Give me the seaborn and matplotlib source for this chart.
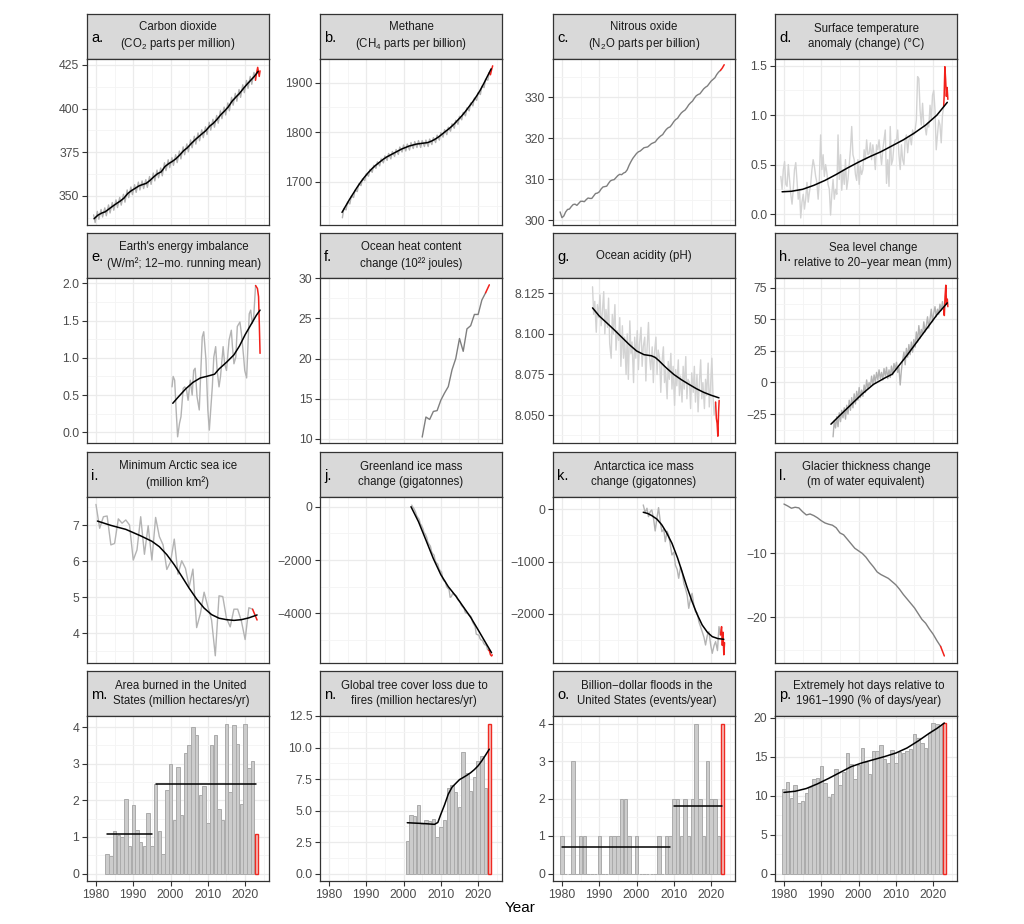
import numpy as np
import matplotlib
matplotlib.use("Agg")
import matplotlib.pyplot as plt
import seaborn as sns

sns.set_theme(style="white")
plt.rcParams['font.family'] = ['Liberation Sans', 'DejaVu Sans']
plt.rcParams['mathtext.fontset'] = 'custom'
plt.rcParams['mathtext.rm'] = 'Liberation Sans'
plt.rcParams['axes.unicode_minus'] = True

# ------------------------------------------------------------------ data
# a. CO2 (ppm): spring peak / autumn trough per year, annual trend
co2_years = np.arange(1979, 2023)
co2_peak = [339.0, 341.0, 342.1, 343.0, 344.7, 346.1, 347.6, 349.0, 350.8, 353.3, 355.0, 356.3, 357.8, 358.5,
            359.2, 361.0, 363.0, 364.7, 365.9, 368.9, 370.6, 371.8, 373.5, 375.6, 378.0, 379.7, 382.0, 384.1,
            386.0, 387.8, 389.5, 392.1, 393.8, 396.0, 398.7, 400.8, 403.2, 406.4, 408.7, 410.9, 413.6, 416.1,
            418.4, 420.7]
co2_trough = [334.6, 336.5, 337.8, 338.5, 340.1, 341.7, 343.2, 344.6, 346.3, 348.9, 350.6, 351.9, 353.3, 354.1,
              354.8, 356.5, 358.5, 360.3, 361.4, 364.4, 366.1, 367.4, 369.0, 371.1, 373.5, 375.2, 377.5, 379.6,
              381.5, 383.3, 385.1, 387.6, 389.3, 391.6, 394.2, 396.3, 398.7, 401.9, 404.2, 406.4, 409.1, 411.6,
              413.9, 416.2]
co2_trend_years = np.arange(1979, 2024)
co2_trend = [336.8, 338.8, 340.0, 340.8, 342.4, 344.0, 345.5, 346.9, 348.6, 351.2, 352.9, 354.2, 355.6, 356.4,
             357.1, 358.8, 360.8, 362.6, 363.7, 366.7, 368.4, 369.7, 371.3, 373.4, 375.8, 377.5, 379.8, 381.9,
             383.8, 385.6, 387.4, 389.9, 391.6, 393.9, 396.5, 398.6, 401.0, 404.2, 406.5, 408.7, 411.4, 413.9,
             416.2, 418.5, 421.3]
co2_red_x = [2022.78, 2023.0, 2023.37, 2023.78, 2024.0]
co2_red = [416.2, 419.6, 423.6, 418.4, 421.6]

# b. CH4 (ppb)
ch4_years = np.arange(1983, 2023)
ch4_low = [1627, 1643, 1655, 1668, 1680, 1692, 1702, 1711, 1719, 1727, 1732, 1738, 1743, 1746, 1751, 1755,
           1760, 1762, 1764, 1767, 1769, 1769, 1771, 1771, 1775, 1779, 1784, 1790, 1795, 1802, 1808, 1816,
           1825, 1833, 1843, 1853, 1864, 1876, 1890, 1905]
ch4_high = [1646, 1659, 1671, 1683, 1696, 1706, 1716, 1725, 1733, 1740, 1746, 1752, 1757, 1761, 1765, 1770,
            1774, 1776, 1779, 1781, 1783, 1783, 1784, 1786, 1789, 1794, 1799, 1805, 1810, 1817, 1824, 1832,
            1840, 1849, 1859, 1869, 1880, 1893, 1907, 1920]
ch4_trend_years = np.arange(1983, 2024)
ch4_trend = [1638, 1651, 1664, 1676, 1688, 1699, 1709, 1718, 1726, 1733, 1739, 1745, 1750, 1754, 1758, 1762,
             1766, 1769, 1772, 1774, 1776, 1777, 1778, 1779, 1782, 1786, 1791, 1797, 1803, 1809, 1816, 1824,
             1832, 1841, 1851, 1861, 1872, 1884, 1898, 1913, 1928]
ch4_red_x = [2023.0, 2023.3, 2023.6, 2023.9]
ch4_red = [1920, 1916, 1926, 1934]

# c. N2O (ppb): mid-year values and year-end values
n2o_years = np.arange(1979, 2023)
n2o = [302.0, 301.0, 302.6, 303.3, 303.9, 304.1, 304.6, 305.0, 305.3, 305.9, 306.6, 307.6, 308.2, 309.0,
       309.8, 310.4, 311.2, 311.5, 312.3, 314.3, 315.7, 316.7, 317.3, 317.8, 318.3, 318.9, 319.7, 320.6,
       321.6, 322.6, 323.4, 324.6, 325.6, 326.6, 327.5, 328.7, 329.8, 330.7, 331.5, 332.5, 333.4, 334.4,
       335.6, 336.6]
n2o_yearend = [300.6, 302.0, 302.7, 303.8, 303.6, 304.6, 304.5, 305.4, 305.3, 306.5, 306.9, 308.1, 308.3,
               309.6, 309.9, 310.9, 311.1, 311.7, 313.4, 315.1, 316.3, 316.9, 317.7, 317.9, 318.7, 319.1,
               320.2, 320.9, 322.2, 322.8, 324.1, 324.9, 326.2, 326.9, 328.2, 329.1, 330.4, 330.9, 332.1,
               332.8, 334.0, 334.8, 336.2]
n2o_red_x = [2022.5, 2023.0, 2023.5]
n2o_red = [336.6, 337.2, 338.0]

# d. Surface temperature anomaly (°C), three readings per year
temp_years = np.arange(1979, 2023)
temp = [0.38, 0.25, 0.45, 0.53, 0.30, 0.28, 0.50, 0.35, 0.20, 0.10, 0.25, 0.45, 0.52, 0.33, 0.15,
        0.25, -0.04, 0.12, 0.20, 0.05, 0.15, 0.32, 0.12, 0.22, 0.30, 0.45, 0.55, 0.48, 0.38, 0.32,
        0.15, 0.35, 0.80, 0.45, 0.60, 0.38, 0.50, 0.42, 0.30, 0.25, -0.01, 0.20, 0.35, 0.15, 0.25,
        0.20, 0.80, 0.35, 0.60, 0.24, 0.45, 0.30, 0.55, 0.25, 0.35, 0.50, 0.65, 0.885, 0.60, 0.55,
        0.40, 0.34, 0.55, 0.30, 0.48, 0.40, 0.45, 0.65, 0.55, 0.75, 0.60, 0.61, 0.72, 0.55, 0.70,
        0.60, 0.45, 0.70, 0.65, 0.75, 0.62, 0.50, 0.65, 0.75, 0.85, 0.31, 0.55, 0.28, 0.885, 0.50,
        0.55, 0.70, 0.75, 0.75, 0.85, 0.60, 0.45, 0.70, 0.55, 0.50, 0.75, 0.80, 0.62, 0.75, 0.78,
        0.70, 0.85, 0.80, 0.85, 0.95, 1.39, 1.37, 1.05, 0.90, 1.12, 0.90, 0.885, 0.80, 0.92, 0.88,
        1.10, 0.95, 1.20, 1.25, 1.05, 0.65, 0.80, 0.95, 0.90, 0.72, 1.00, 1.09]
temp_red_x = [2022.83, 2022.95, 2023.15, 2023.35, 2023.55, 2023.75, 2023.95]
temp_red = [1.09, 1.19, 1.49, 1.36, 1.19, 1.28, 1.16]
temp_trend_x = [1979.5, 1982, 1985, 1988, 1991, 1994, 1997, 2000, 2003, 2006, 2009, 2012, 2015, 2018, 2021, 2023.8]
temp_trend = [0.225, 0.23, 0.25, 0.29, 0.34, 0.40, 0.465, 0.525, 0.58, 0.63, 0.69, 0.75, 0.82, 0.90, 1.00, 1.13]

# e. Earth's energy imbalance (W/m2)
eei_x = [2000.4, 2000.7, 2001.1, 2001.5, 2001.9, 2002.4, 2002.8, 2003.4, 2003.8, 2004.3, 2004.7, 2005.3,
         2005.8, 2006.2, 2006.6, 2007.1, 2007.7, 2008.2, 2008.5, 2008.9, 2009.5, 2010.0, 2010.4, 2010.7,
         2011.2, 2011.6, 2012.1, 2012.5, 2013.0, 2013.4, 2014.1, 2014.5, 2015.0, 2015.7, 2016.3, 2016.6,
         2017.0, 2017.5, 2017.9, 2018.6, 2019.0, 2019.6, 2019.9, 2020.4, 2020.6, 2021.1, 2021.5, 2021.9,
         2022.3, 2022.8]
eei = [0.61, 0.75, 0.70, 0.30, -0.06, 0.12, 0.21, 0.59, 0.61, 0.57, 0.43, 0.70, 0.50, 0.83, 0.86, 0.48,
       0.30, 0.92, 1.28, 1.35, 0.97, 0.30, 0.03, 0.25, 0.61, 1.01, 1.15, 0.83, 0.61, 0.75, 1.15, 0.92,
       0.83, 1.24, 1.37, 1.15, 0.92, 1.01, 1.42, 1.48, 1.33, 1.01, 0.83, 0.73, 0.97, 1.59, 1.64, 1.46,
       1.55, 1.97]
eei_red_x = [2022.8, 2023.3, 2023.6, 2023.8, 2024.0]
eei_red = [1.97, 1.93, 1.82, 1.46, 1.06]
eei_trend_x = [2000.6, 2002, 2004, 2006, 2008, 2010, 2011.8, 2013, 2015, 2017, 2018.5, 2020, 2021.5, 2023, 2024]
eei_trend = [0.39, 0.47, 0.58, 0.67, 0.73, 0.755, 0.78, 0.85, 0.94, 1.04, 1.16, 1.31, 1.44, 1.57, 1.64]

# f. Ocean heat content change (10^22 J)
ohc_years = [2005, 2006, 2007, 2008, 2009, 2010, 2011, 2012, 2013, 2014, 2015, 2016, 2017, 2018, 2019,
             2020, 2021, 2022]
ohc = [10.2, 12.7, 12.4, 13.4, 13.5, 14.8, 15.7, 16.5, 18.6, 20.0, 22.5, 20.9, 23.7, 24.1, 25.5, 25.5, 27.3, 28.2]
ohc_red_x = [2022, 2023]
ohc_red = [28.2, 29.2]

# g. Ocean acidity (pH), three readings per year
ph_years = np.arange(1988, 2022)
ph = [8.129, 8.112, 8.120, 8.101, 8.118, 8.110, 8.124, 8.105, 8.112, 8.126, 8.100, 8.115,
      8.104, 8.122, 8.094, 8.085, 8.112, 8.100, 8.118, 8.090, 8.102, 8.096, 8.110, 8.080,
      8.105, 8.085, 8.098, 8.075, 8.100, 8.072, 8.108, 8.088, 8.095, 8.070, 8.098, 8.085,
      8.102, 8.078, 8.094, 8.104, 8.080, 8.092, 8.098, 8.071, 8.090, 8.107, 8.085, 8.078,
      8.092, 8.070, 8.088, 8.098, 8.075, 8.090, 8.085, 8.064, 8.082, 8.092, 8.070, 8.078,
      8.060, 8.083, 8.072, 8.088, 8.066, 8.080, 8.056, 8.078, 8.068, 8.084, 8.062, 8.074,
      8.058, 8.080, 8.066, 8.086, 8.060, 8.072, 8.070, 8.054, 8.076, 8.064, 8.080, 8.058,
      8.075, 8.052, 8.068, 8.084, 8.060, 8.070, 8.054, 8.072, 8.062, 8.082, 8.055, 8.066,
      8.085, 8.062, 8.050, 8.058]
ph_red_x = [2021.2, 2021.4, 2021.6, 2021.8, 2022.0, 2022.15]
ph_red = [8.058, 8.048, 8.045, 8.037, 8.052, 8.059]
ph_trend_x = [1988.2, 1990, 1992, 1994, 1996, 1998, 2000, 2002, 2004, 2005, 2006, 2008, 2010, 2012, 2014,
              2016, 2018, 2020, 2022.1]
ph_trend = [8.1160, 8.1110, 8.1068, 8.1025, 8.0980, 8.0935, 8.0895, 8.0872, 8.0865, 8.0855, 8.0835, 8.0790,
            8.0750, 8.0718, 8.0690, 8.0663, 8.0640, 8.0622, 8.0606]

# h. Sea level change (mm), three readings per year
sl_years = np.arange(1993, 2023)
sl = [-43, -30, -36, -27, -35, -24, -31, -22, -28, -20, -29, -18, -25, -14, -22, -12, -20, -9,
      -17, -7, -14, -4, -12, -6, -11, -2, -8, 2, -5, 0, -3, 5, -2, 6, 0, 8, 2, 10, 3, 8, 2, 11,
      5, 12, 3, 10, 4, 13, 6, 15, 10, 16, 8, 12, -2, 10, 18, 24, 14, 27, 20, 30, 22, 32, 24, 34,
      28, 40, 32, 45, 35, 42, 38, 48, 40, 45, 52, 43, 50, 58, 48, 55, 60, 52, 58, 54, 62, 57, 64, 58]
sl_red_x = [2022.83, 2023.0, 2023.2, 2023.4, 2023.6, 2023.8, 2023.95]
sl_red = [58, 53, 68, 77, 62, 66, 60]
sl_trend_x = [1992.6, 1995, 1998, 2001, 2004, 2007, 2009, 2011, 2013, 2015, 2017, 2019, 2021, 2023.8]
sl_trend = [-33, -26, -17.5, -9, -1.5, 3.5, 6.5, 14, 21.5, 29.5, 37.5, 45.5, 53.5, 63]

# i. Minimum Arctic sea ice (million km2)
ice_years = np.arange(1980, 2023)
ice = [7.57, 6.91, 7.23, 7.25, 6.45, 6.49, 7.17, 7.05, 7.14, 7.00, 6.03, 6.31, 7.23, 6.19, 6.98, 6.03,
       7.21, 6.68, 6.45, 5.77, 5.98, 6.61, 5.64, 6.01, 5.80, 5.29, 5.78, 4.16, 4.55, 5.14, 4.74, 4.37,
       3.38, 5.04, 5.02, 4.42, 4.18, 4.67, 4.67, 4.34, 3.83, 4.71, 4.67]
ice_red_x = [2022, 2023.2]
ice_red = [4.67, 4.37]
ice_trend_x = [1980.4, 1984, 1988, 1992, 1995, 1997, 1999, 2001, 2003, 2005, 2007, 2009, 2011, 2013, 2015,
               2017, 2019, 2021, 2023.2]
ice_trend = [7.11, 6.99, 6.88, 6.70, 6.55, 6.40, 6.18, 5.90, 5.58, 5.25, 4.95, 4.70, 4.52, 4.42, 4.38,
             4.36, 4.38, 4.43, 4.51]

# j. Greenland ice mass change (Gt), three readings per year
gr_years = np.arange(2002, 2023)
gr = [60, -20, -80, -200, -330, -400, -480, -640, -700, -820, -980, -1020, -1150, -1320, -1400,
      -1480, -1680, -1760, -1820, -2040, -2100, -2160, -2330, -2400, -2450, -2700, -2780, -2800, -2980,
      -3050, -3100, -3400, -3380, -3240, -3300, -3310, -3350, -3480, -3520, -3580, -3700, -3750, -3800,
      -3950, -4000, -4000, -4060, -4080, -4150, -4330, -4400, -4500, -4780, -4800, -4820, -4950, -5000,
      -5020, -5130, -5180, -5200, -5350, -5380]
gr_red_x = [2022.8, 2023.0, 2023.3, 2023.6, 2023.8]
gr_red = [-5380, -5400, -5550, -5600, -5560]
gr_trend_x = [2002.0, 2004, 2006, 2008, 2010, 2012, 2014, 2016, 2018, 2020, 2022, 2023.6]
gr_trend = [0, -560, -1250, -1950, -2550, -3000, -3350, -3750, -4150, -4620, -5100, -5480]

# k. Antarctica ice mass change (Gt)
an_x = [2001.8, 2002.3, 2002.8, 2003.2, 2003.7, 2004.1, 2004.6, 2005.0, 2005.5, 2005.9, 2006.4, 2006.8,
        2007.3, 2007.7, 2008.2, 2008.6, 2009.1, 2009.5, 2010.0, 2010.4, 2010.9, 2011.3, 2011.8, 2012.2,
        2012.7, 2013.1, 2013.6, 2014.0, 2014.5, 2014.9, 2015.4, 2015.8, 2016.3, 2016.7, 2017.2, 2017.6,
        2018.1, 2018.5, 2019.0, 2019.4, 2019.9, 2020.3, 2020.8, 2021.2, 2021.7, 2022.1, 2022.5]
an = [83, -60, 20, -140, -40, -13, -200, -414, -150, 32, -250, -427, -380, -618, -420, -490, -700, -873,
      -820, -1064, -1150, -1318, -1100, -1191, -1420, -1510, -1650, -1892, -1700, -1605, -1850, -1956,
      -1980, -2147, -2250, -2338, -2450, -2593, -2400, -2338, -2600, -2752, -2600, -2529, -2700, -2242, -2401]
an_red_x = [2022.5, 2022.8, 2023.0, 2023.2, 2023.4, 2023.6]
an_red = [-2401, -2242, -2600, -2350, -2780, -2550]
an_trend_x = [2001.8, 2003, 2004.1, 2005.5, 2006.8, 2008, 2009.5, 2011, 2012.2, 2013.5, 2014.9, 2016.2,
              2017.6, 2019, 2020.3, 2021.8, 2023.4]
an_trend = [-57, -80, -121, -190, -300, -440, -650, -930, -1191, -1480, -1764, -2000, -2210, -2350,
            -2433, -2470, -2484]

# l. Glacier thickness change (m w.e.)
gl_years = np.arange(1980, 2023)
gl = [-2.3, -2.6, -2.95, -2.8, -2.9, -3.5, -4.0, -3.85, -4.1, -4.45, -4.9, -5.25, -5.45, -5.6, -6.0, -6.8,
      -7.1, -7.8, -8.5, -9.2, -9.6, -10.0, -10.6, -11.4, -12.1, -12.9, -13.3, -13.6, -13.9, -14.4, -14.9,
      -15.6, -16.4, -17.1, -17.8, -18.5, -19.4, -20.3, -20.9, -21.8, -22.6, -23.6, -24.5]
gl_red_x = [2022, 2023]
gl_red = [-24.5, -26.0]

# m. Area burned in the US (million ha/yr)
burn_years = np.arange(1983, 2023)
burn = [0.53, 0.48, 1.17, 1.05, 1.00, 2.03, 0.75, 1.87, 1.20, 0.85, 0.74, 1.65, 0.75, 2.46, 1.16, 0.54,
        2.28, 3.00, 1.45, 2.91, 1.61, 3.29, 3.52, 4.00, 3.78, 2.15, 2.40, 1.39, 3.52, 3.78, 1.75, 1.46,
        4.10, 2.23, 4.06, 3.55, 1.89, 4.10, 2.88, 3.07]
burn_2023 = 1.09
burn_seg_start = [1983, 1996]
burn_seg_end = [1995, 2023]
burn_seg_level = [1.09, 2.46]

# n. Global tree cover loss due to fires (million ha/yr)
tree_years = np.arange(2001, 2023)
tree = [2.58, 4.62, 4.53, 5.47, 3.95, 4.22, 4.18, 4.30, 2.93, 3.68, 4.22, 6.79, 7.05, 6.45, 5.30, 9.68,
        7.97, 6.53, 7.63, 8.95, 9.34, 6.75]
tree_2023 = 11.9
tree_trend_x = [2001, 2003, 2005, 2007, 2008.3, 2009.2, 2010, 2011, 2012, 2013, 2014, 2015, 2016, 2017,
                2018, 2019, 2020, 2021, 2022, 2023]
tree_trend = [4.03, 4.00, 3.97, 3.93, 3.90, 4.05, 4.70, 5.45, 6.30, 6.85, 7.15, 7.45, 7.62, 7.80, 8.00,
              8.25, 8.55, 8.95, 9.40, 9.87]

# o. Billion-dollar floods in the US (events/yr)
flood_years = np.arange(1980, 2023)
flood = [1, 0, 0, 3, 0, 1, 1, 0, 0, 0,
         1, 0, 0, 1, 1, 1, 2, 2, 1, 0,
         1, 0, 0, 0, 0, 0, 1, 0, 1, 1,
         2, 2, 1, 2, 1, 2, 4, 2, 1, 3, 2, 2, 1]
flood_2023 = 4
flood_seg_start = [1980, 2010]
flood_seg_end = [2009, 2023]
flood_seg_level = [0.7, 1.8]

# p. Extremely hot days (% of days/yr)
hot_years = np.arange(1980, 2023)
hot = [10.9, 11.7, 9.7, 11.3, 9.0, 9.3, 10.3, 11.1, 12.1, 12.2,
       13.8, 11.6, 9.8, 10.2, 13.4, 11.4, 13.0, 15.4, 14.0, 12.1,
       13.9, 16.1, 14.3, 12.8, 15.7, 15.7, 16.5, 14.7, 14.2, 15.8,
       14.2, 15.6, 15.5, 15.7, 16.0, 17.9, 17.4, 16.8, 16.1, 18.0, 19.3, 19.2, 19.0]
hot_2023 = 19.25
hot_trend_x = [1980, 1983, 1986, 1989, 1992, 1995, 1998, 2001, 2004, 2007, 2010, 2013, 2016, 2019, 2021, 2023]
hot_trend = [10.4, 10.55, 10.9, 11.5, 12.2, 12.95, 13.7, 14.2, 14.6, 15.0, 15.45, 16.1, 17.0, 18.0, 18.6, 19.3]

year_ticks = [1980, 1990, 2000, 2010, 2020]

# ------------------------------------------------------------------ layout / style
W, H = 1024, 924
fig = plt.figure(figsize=(W / 100, H / 100), dpi=100)
COL_X = [87, 320, 553, 775]
COL_W = 182
STRIP_TOP = [14, 233, 452, 671]
STRIP_H = 45
PLOT_H = [166, 165, 166, 165]
XLIM = (1977.6, 2026.4)

DARK = '#333333'
GRAY_LIGHT = '#d3d3d3'
GRAY_MID = '#b3b3b3'
GRAY_DARK = '#7f7f7f'
RED = '#f2211b'
BAR_FILL = '#cccccc'
BAR_EDGE = '#ababab'


def px_axes(x0, y0, w, h):
    return fig.add_axes([x0 / W, 1 - (y0 + h) / H, w / W, h / H])


def make_panel(i, letter, title, dx=0):
    r, c = divmod(i, 4)
    x0 = COL_X[c]
    st = STRIP_TOP[r]
    s = px_axes(x0, st, COL_W, STRIP_H)
    s.set_facecolor('#d9d9d9')
    s.set_xticks([]); s.set_yticks([])
    for sp in s.spines.values():
        sp.set_color(DARK); sp.set_linewidth(0.9)
    s.text(0.5 + dx / COL_W, 0.5, title, ha='center', va='center', fontsize=8.3, color='#1a1a1a',
           linespacing=1.36, transform=s.transAxes)
    s.text(4 / COL_W, 0.47, letter, ha='left', va='center', fontsize=10.5, color='black',
           transform=s.transAxes)
    ax = px_axes(x0, st + STRIP_H, COL_W, PLOT_H[r])
    ax.set_facecolor('white')
    return ax, r


def fmt_num(v, dec):
    s = f"{v:.{dec}f}"
    return s.replace('-', '\u2212')


def finish(ax, r, ylim, yticks, dec):
    ax.set(xlabel='', ylabel='')
    ax.set_xlim(*XLIM)
    ax.set_ylim(*ylim)
    ax.set_yticks(yticks)
    ax.set_yticklabels([fmt_num(v, dec) for v in yticks])
    step = yticks[1] - yticks[0]
    ymin = np.arange(yticks[0] - step / 2, ylim[1], step)
    ymin = [v for v in ymin if ylim[0] <= v <= ylim[1]]
    ax.set_yticks(ymin, minor=True)
    ax.set_xticks(year_ticks)
    ax.set_xticklabels([str(y) for y in year_ticks])
    ax.set_xticks([v for v in [1975, 1985, 1995, 2005, 2015, 2025] if XLIM[0] <= v <= XLIM[1]], minor=True)
    ax.set_axisbelow(True)
    ax.grid(True, which='major', color='#ebebeb', lw=0.9)
    ax.grid(True, which='minor', color='#f4f4f4', lw=0.6)
    ax.tick_params(axis='y', which='major', left=True, length=3.5, width=0.8, color=DARK,
                   labelsize=8.8, labelcolor='#4d4d4d', pad=2)
    ax.tick_params(axis='both', which='minor', length=0)
    if r == 3:
        ax.tick_params(axis='x', which='major', bottom=True, length=3.5, width=0.8, color=DARK,
                       labelsize=8.8, labelcolor='#4d4d4d', pad=2)
    else:
        ax.tick_params(axis='x', which='major', bottom=False, labelbottom=False, length=0)
    for sp in ax.spines.values():
        sp.set_visible(True); sp.set_color(DARK); sp.set_linewidth(0.9)


def line(ax, x, y, color, lw):
    sns.lineplot(x=np.asarray(x, float), y=np.asarray(y, float), ax=ax, color=color, lw=lw,
                 estimator=None, sort=False, legend=False)


def interleave(years, offsets, values):
    xs = (np.asarray(years, float)[:, None] + np.asarray(offsets)[None, :]).ravel()
    return xs[:len(values)], np.asarray(values, float)


def bars(ax, years, vals, last_year, last_val):
    sns.barplot(x=np.asarray(years), y=np.asarray(vals, float), ax=ax, native_scale=True,
                color=BAR_FILL, edgecolor=BAR_EDGE, linewidth=0.7, width=0.92, saturation=1,
                errorbar=None)
    sns.barplot(x=np.asarray([last_year]), y=np.asarray([last_val], float), ax=ax, native_scale=True,
                color='#f7c3c0', edgecolor='#ef2a22', linewidth=1.0, width=0.92, saturation=1,
                errorbar=None)


LW_G, LW_K, LW_R = 1.0, 1.1, 1.1

# a
ax, r = make_panel(0, 'a.', 'Carbon dioxide\n(CO$_\\mathregular{2}$ parts per million)')
x = np.column_stack([co2_years + 0.37, co2_years + 0.78]).ravel()
y = np.column_stack([co2_peak, co2_trough]).ravel()
line(ax, x, y, GRAY_MID, LW_G)
line(ax, co2_red_x, co2_red, RED, LW_R)
line(ax, co2_trend_years + 0.5, co2_trend, 'black', LW_K)
finish(ax, r, (333.2, 428.4), [350, 375, 400, 425], 0)

# b
ax, r = make_panel(1, 'b.', 'Methane\n(CH$_\\mathregular{4}$ parts per billion)')
x = np.column_stack([ch4_years + 0.6, ch4_years + 1.0]).ravel()
y = np.column_stack([ch4_low, ch4_high]).ravel()
line(ax, x, y, GRAY_MID, LW_G)
line(ax, ch4_red_x, ch4_red, RED, LW_R)
line(ax, ch4_trend_years + 0.5, ch4_trend, 'black', LW_K)
finish(ax, r, (1612.5, 1947.8), [1700, 1800, 1900], 0)

# c
ax, r = make_panel(2, 'c.', 'Nitrous oxide\n(N$_\\mathregular{2}$O parts per billion)')
nx = np.column_stack([n2o_years[:-1] + 0.5, n2o_years[:-1] + 1.0]).ravel()
ny = np.column_stack([n2o[:-1], n2o_yearend]).ravel()
nx = np.append(nx, n2o_years[-1] + 0.5)
ny = np.append(ny, n2o[-1])
line(ax, nx, ny, GRAY_DARK, LW_G)
line(ax, n2o_red_x, n2o_red, RED, LW_R)
finish(ax, r, (298.8, 339.4), [300, 310, 320, 330], 0)

# d
ax, r = make_panel(3, 'd.', 'Surface temperature\nanomaly (change) (°C)')
x, y = interleave(temp_years, [0.17, 0.5, 0.83], temp)
line(ax, x, y, GRAY_LIGHT, LW_G)
line(ax, temp_red_x, temp_red, RED, LW_R)
line(ax, temp_trend_x, temp_trend, 'black', LW_K)
finish(ax, r, (-0.111, 1.568), [0.0, 0.5, 1.0, 1.5], 1)

# e
ax, r = make_panel(4, 'e.', "Earth's energy imbalance\n(W/m²; 12\u2212mo. running mean)", dx=6)
line(ax, eei_x, eei, GRAY_MID, LW_G)
line(ax, eei_red_x, eei_red, RED, LW_R)
line(ax, eei_trend_x, eei_trend, 'black', LW_K)
finish(ax, r, (-0.143, 2.071), [0.0, 0.5, 1.0, 1.5, 2.0], 1)

# f
ax, r = make_panel(5, 'f.', 'Ocean heat content\nchange (10²² joules)')
line(ax, ohc_years, ohc, GRAY_DARK, LW_G)
line(ax, ohc_red_x, ohc_red, RED, LW_R)
finish(ax, r, (9.46, 30.05), [10, 15, 20, 25, 30], 0)

# g
ax, r = make_panel(6, 'g.', 'Ocean acidity (pH)')
x, y = interleave(ph_years, [0.2, 0.5, 0.8], ph)
line(ax, x, y, GRAY_LIGHT, LW_G)
line(ax, ph_red_x, ph_red, RED, LW_R)
line(ax, ph_trend_x, ph_trend, 'black', LW_K)
finish(ax, r, (8.0328, 8.1344), [8.050, 8.075, 8.100, 8.125], 3)

# h
ax, r = make_panel(7, 'h.', 'Sea level change\nrelative to 20\u2212year mean (mm)', dx=7)
x, y = interleave(sl_years, [0.17, 0.5, 0.83], sl)
line(ax, x, y, GRAY_MID, LW_G)
line(ax, sl_red_x, sl_red, RED, LW_R)
line(ax, sl_trend_x, sl_trend, 'black', LW_K)
finish(ax, r, (-47.9, 82.7), [-25, 0, 25, 50, 75], 0)

# i
ax, r = make_panel(8, 'i.', 'Minimum Arctic sea ice\n(million km²)')
line(ax, ice_years, ice, GRAY_MID, LW_G)
line(ax, ice_red_x, ice_red, RED, LW_R)
line(ax, ice_trend_x, ice_trend, 'black', LW_K)
finish(ax, r, (3.18, 7.776), [4, 5, 6, 7], 0)

# j
ax, r = make_panel(9, 'j.', 'Greenland ice mass\nchange (gigatonnes)')
x, y = interleave(gr_years, [0.2, 0.5, 0.8], gr)
line(ax, x, y, GRAY_MID, LW_G)
line(ax, gr_red_x, gr_red, RED, LW_R)
line(ax, gr_trend_x, gr_trend, 'black', LW_K)
finish(ax, r, (-5864, 364), [-4000, -2000, 0], 0)

# k
ax, r = make_panel(10, 'k.', 'Antarctica ice mass\nchange (gigatonnes)')
line(ax, an_x, an, GRAY_MID, LW_G)
line(ax, an_red_x, an_red, RED, LW_R)
line(ax, an_trend_x, an_trend, 'black', LW_K)
finish(ax, r, (-2937, 235), [-2000, -1000, 0], 0)

# l
ax, r = make_panel(11, 'l.', 'Glacier thickness change\n(m of water equivalent)')
line(ax, gl_years, gl, GRAY_DARK, LW_G)
line(ax, gl_red_x, gl_red, RED, LW_R)
finish(ax, r, (-27.1, -1.2), [-20, -10], 0)

# m
ax, r = make_panel(12, 'm.', 'Area burned in the United\nStates (million hectares/yr)', dx=3)
bars(ax, burn_years, burn, 2023, burn_2023)
for s0, s1, lv in zip(burn_seg_start, burn_seg_end, burn_seg_level):
    line(ax, [s0, s1], [lv, lv], 'black', LW_K)
finish(ax, r, (-0.205, 4.305), [0, 1, 2, 3, 4], 0)

# n
ax, r = make_panel(13, 'n.', 'Global tree cover loss due to\nfires (million hectares/yr)', dx=3)
bars(ax, tree_years, tree, 2023, tree_2023)
line(ax, tree_trend_x, tree_trend, 'black', LW_K)
finish(ax, r, (-0.595, 12.5), [0.0, 2.5, 5.0, 7.5, 10.0, 12.5], 1)

# o
ax, r = make_panel(14, 'o.', 'Billion\u2212dollar floods in the\nUnited States (events/year)', dx=3)
bars(ax, flood_years, flood, 2023, flood_2023)
for s0, s1, lv in zip(flood_seg_start, flood_seg_end, flood_seg_level):
    line(ax, [s0, s1], [lv, lv], 'black', LW_K)
finish(ax, r, (-0.2, 4.2), [0, 1, 2, 3, 4], 0)

# p
ax, r = make_panel(15, 'p.', 'Extremely hot days relative to\n1961\u22121990 (% of days/year)', dx=3)
bars(ax, hot_years, hot, 2023, hot_2023)
line(ax, hot_trend_x, hot_trend, 'black', LW_K)
finish(ax, r, (-0.96, 20.2), [0, 5, 10, 15, 20], 0)

fig.text(520 / W, 1 - 908 / H, 'Year', ha='center', va='center', fontsize=11, color='black')

fig.savefig('out.png', dpi=100)
